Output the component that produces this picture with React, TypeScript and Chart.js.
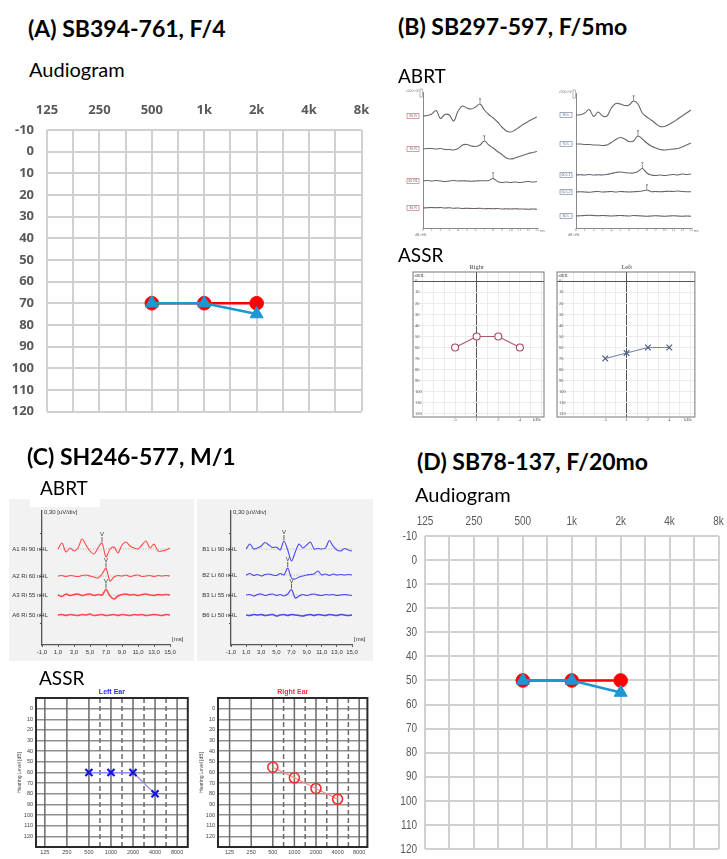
import React, { useEffect, useRef } from 'react';
import { Chart, registerables } from 'chart.js';

Chart.register(...registerables);

// ======================= DATA =======================
// Audiograms (panels A and D)
const audiogramFreqs = [500, 1000, 2000];
const panelARightEar = [70, 70, 70];
const panelALeftEar = [70, 70, 75];
const panelDRightEar = [50, 50, 50];
const panelDLeftEar = [50, 50, 55];
const audiogramTickFreqs = [125, 250, 500, 1000, 2000, 4000, 8000];
const audiogramTickLabels = ['125', '250', '500', '1k', '2k', '4k', '8k'];
const audiogramDbTicks = [-10, 0, 10, 20, 30, 40, 50, 60, 70, 80, 90, 100, 110, 120];

// ASSR (panels B and C)
const assrFreqs = [500, 1000, 2000, 4000];
const panelBAssrRight = [60, 50, 50, 60];
const panelBAssrLeft = [70, 65, 60, 60];
const panelBAssrTickLabels = ['.5', '1', '2', '4'];
const panelBAssrDbTicks = [0, 10, 20, 30, 40, 50, 60, 70, 80, 90, 100, 110, 120];
const panelCAssrLeftEar = [60, 60, 60, 80];
const panelCAssrRightEar = [55, 65, 75, 85];
const panelCAssrTickFreqs = [125, 250, 500, 1000, 2000, 4000, 8000];
const panelCAssrTickLabels = ['125', '250', '500', '1000', '2000', '4000', '8000'];
const panelCAssrDbGrid = [-10, 0, 10, 20, 30, 40, 50, 60, 70, 80, 90, 100, 110, 120, 130];

// ABRT panel B (time in ms, amplitude)
const panelBTimes = [0, 0.5, 1, 1.5, 2, 2.5, 3, 3.5, 4, 4.5, 5, 5.5, 6, 6.5, 7, 7.5, 8, 8.5, 9, 9.5, 10, 10.5, 11, 11.5, 12, 12.5, 13];
const panelBTimeTicks = [0, 1, 2, 3, 4, 5, 6, 7, 8, 9, 10, 11, 12, 13];
const panelBRightLabels = ['90 R', '70 R', '50 R1', '30 R'];
const panelBRight90 = [0, 0.5, 2, 5.5, -2.5, 1.5, 1, -5, 5, 10, 8, 7, 9, 12, 6, 1.5, -2, -6, -11, -15, -16, -14, -11, -8, -5.5, -3, -1];
const panelBRight70 = [0, 0.5, 0.5, 0, 0.5, -0.5, -0.5, -1, 0.5, 4, 4.5, 3, 2.5, 4, 8, 4, 1, -2.5, -5.5, -9, -10, -9, -7.5, -6, -4.5, -3.5, -2.5];
const panelBRight50 = [0, 0.5, 0, 0.5, 0, -0.5, 0, 0.5, 0, 0.3, 0, -0.3, 0, 0.3, 0.3, 0.5, 2.5, -0.5, -1.5, -1, -1.5, -1, -1.5, -1, -0.5, -1, -0.5];
const panelBRight30 = [0, 0.3, 0.5, 0.3, 0.5, 0, 0.3, -0.3, 0, -0.5, -0.3, -0.5, -0.5, -0.3, -0.8, -0.5, -0.8, -0.5, -1, -0.8, -1, -0.8, -1, -1, -1.2, -1, -1.2];
const panelBRightPeaks = [[0, 13], [1, 14], [2, 16]];
const panelBLeftLabels = ['90 L', '70 L', '60 L1', '50 L2', '30 L'];
const panelBLeft90 = [0, 0.3, 2, 5.5, -1.5, 3, -1, -1, 7, 11.5, 11, 9.5, 10, 14, 11, 2, -2, -5, -8.5, -11.5, -11.5, -9.5, -7, -4, -1, 2, 5];
const panelBLeft70 = [0, 0, -0.5, -0.5, -1, -1, -1.5, -1, 1.5, 4.5, 6.5, 5, 2.5, 3, 8, 5, 1, -2, -4, -5.5, -6, -5.5, -5, -4.5, -3, -1, 1];
const panelBLeft60 = [0, 0.3, 0, 0.5, 0, 0.3, 0, 0.5, 1.5, 2.5, 3, 2.5, 2, 2, 3.5, 6.5, 2, 0, -0.5, 0, -0.5, 0, 0.5, 0, 1, 0.5, 1];
const panelBLeft50 = [0, 0.3, 0, -0.3, 0.3, 0.5, 0, 0.3, 0.5, 0, 0.5, 0.3, 0, 0.3, 0.5, 1, 2, 0.3, 0.5, 0.3, 0.5, 0.8, 0.5, 1, 0.5, 0.3, 0.3];
const panelBLeft30 = [0, 0.3, 0.5, 0.8, 0.5, 0.3, 0.5, 0.3, 0, 0.3, 0.5, 0.3, 0, 0.5, 0.3, 0, -0.3, 0, 0.3, 0, -0.3, 0, 0.3, 0, -0.3, 0, -0.3];
const panelBLeftPeaks = [[0, 13], [1, 14], [2, 15], [3, 16]];

// ABRT panel C
const panelCTimes = [1, 1.5, 2, 2.5, 3, 3.5, 4, 4.5, 5, 5.5, 6, 6.5, 7, 7.5, 8, 8.5, 9, 9.5, 10, 10.5, 11, 11.5, 12, 12.5, 13, 13.5, 14, 14.5, 15];
const panelCTimeTicks = [-1, 1, 3, 5, 7, 9, 11, 13, 15];
const panelCRightLabels = ['A1 Ri 90 nHL', 'A2 Ri 60 nHL', 'A3 Ri 55 nHL', 'A6 Ri 50 nHL'];
const panelCRight90 = [0, 6, -3, 1, -2, 1, 10, 4, -2, -5, 1, 6, -8, 0, 2, -4, 4, 7, 3, 1, 0, 4, 8, 1, 5, -2, -2, -1, 1];
const panelCRight60 = [0, 0.5, -0.5, 0.5, 0, -0.5, 0.5, 1, 0, -1, -2, 2, 7.5, -5, -1, 0.5, 0, 1, -0.5, 0.5, 1, -0.5, 0, 0.5, -0.5, 0.5, 0, 0.5, 0];
const panelCRight55 = [0, -1.5, 1, -0.5, 0.5, 1, -0.5, 0.5, 1, -0.5, 0.5, 0, 5.5, -1, -4, -1, 0.5, 1, 0, 0.5, -0.5, 0.5, 1, 0, -0.5, 0.5, 0, 0.5, 0];
const panelCRight50 = [0, 0.5, -0.5, 0.5, 0, -0.5, 0.5, 0, 1, -0.5, 0, 0.5, -0.5, 0, 0.5, -0.5, 0.5, 0, -0.5, 0.5, 0, 0.5, -0.5, 0, 0.5, 0, -0.5, 0.5, 0];
const panelCRightPeaks = [[0, 11], [1, 12], [2, 12]];
const panelCLeftLabels = ['B1 Li 90 nHL', 'B2 Li 60 nHL', 'B3 Li 55 nHL', 'B6 Li 50 nHL'];
const panelCLeft90 = [0, 5, 0, 1, 3, 6.5, 4, 1.5, 2, -1, 8, -1, -12, -3, 5, 1, 4, 7, 0, 0.5, 0, 1, 8.5, 3, -1, -2, 0.5, -1, -2];
const panelCLeft60 = [0, 1.5, -0.5, 0.5, -1, 0.5, 1, 0, -0.5, 1.5, 0, 7, -3, -4, -2, -1, 0, 0.5, 1, 4, 0, 1, -0.5, 1, 0, 0.5, 0, 0.5, 0];
const panelCLeft55 = [0, 0.5, -1, 0.5, 1, -0.5, 0.5, 1, -0.5, 0.5, -1, 1, 5.5, -3, -1, 0.5, -0.5, 0.5, 1, 0, -0.5, 0.5, 0, 0.5, -0.5, 0, 0.5, 0, -0.5];
const panelCLeft50 = [0, -0.5, 0.5, 0, 0.5, -0.5, 0, 0.5, -1, 0, 0.5, -0.5, 0.5, 0, -0.5, -1, 0, 0.5, -0.5, 0.5, 0, -0.5, 0.5, 0, -0.5, 0.5, 0, -0.5, 0];
const panelCLeftPeaks = [[0, 10], [1, 11], [2, 12]];

// ======================= STYLE / HELPERS =======================
const SANS = "'Liberation Sans', Arial, sans-serif";
const SERIF = "'Liberation Serif', 'DejaVu Serif', serif";
const HEAD = "Lato, 'Open Sans', sans-serif";
const AUD_RED = '#ff0000';
const AUD_BLUE = '#1e96d2';
const SQ2 = Math.SQRT2;

function withHalfOctaves(freqs: number[]) {
  const out: number[] = [];
  freqs.forEach((f, i) => {
    out.push(f);
    if (i < freqs.length - 1) out.push(f * SQ2);
  });
  return out;
}
function labelFor(v: number, freqs: number[], labels: string[]) {
  const i = freqs.findIndex((f) => Math.abs(f - v) < 0.5);
  return i >= 0 ? labels[i] : '';
}
function baseOptions(pad: any) {
  return {
    responsive: false,
    maintainAspectRatio: false,
    animation: false,
    events: [],
    layout: { padding: pad },
    plugins: { legend: { display: false }, tooltip: { enabled: false }, title: { display: false } },
  };
}

// ---------- audiogram ----------
function audiogramChart(right: number[], left: number[], L: any) {
  const tickColor = L.squeeze ? 'rgba(0,0,0,0)' : L.color;
  return {
    type: 'line',
    data: {
      datasets: [
        {
          label: 'Left ear',
          data: audiogramFreqs.map((f, i) => ({ x: f, y: left[i] })),
          borderColor: AUD_BLUE, backgroundColor: AUD_BLUE,
          pointBackgroundColor: AUD_BLUE, pointBorderColor: AUD_BLUE,
          borderWidth: L.lw, pointStyle: 'triangle', pointRadius: L.tri, pointBorderWidth: 1, tension: 0,
        },
        {
          label: 'Right ear',
          data: audiogramFreqs.map((f, i) => ({ x: f, y: right[i] })),
          borderColor: AUD_RED, backgroundColor: AUD_RED,
          pointBackgroundColor: AUD_RED, pointBorderColor: AUD_RED,
          borderWidth: L.lw, pointStyle: 'circle', pointRadius: L.dot, pointBorderWidth: 1, tension: 0,
        },
      ],
    },
    options: {
      ...baseOptions({ left: 0, top: 0, right: L.padR, bottom: L.padB }),
      scales: {
        x: {
          type: 'logarithmic', position: 'top', min: 125, max: 8000,
          afterBuildTicks: (s: any) => { s.ticks = withHalfOctaves(audiogramTickFreqs).map((v) => ({ value: v })); },
          afterFit: (s: any) => { s.height = L.xH; s.paddingLeft = 0; s.paddingRight = 0; },
          ticks: {
            autoSkip: false, maxRotation: 0, minRotation: 0, padding: L.xPad, color: tickColor, font: L.font,
            callback: (v: any) => labelFor(Number(v), audiogramTickFreqs, audiogramTickLabels),
          },
          grid: { color: L.grid, lineWidth: L.gridW, drawTicks: false },
          border: { display: false },
        },
        y: {
          type: 'linear', min: -10, max: 120, reverse: true,
          afterBuildTicks: (s: any) => { s.ticks = audiogramDbTicks.map((v) => ({ value: v })); },
          afterFit: (s: any) => { s.width = L.yW; s.paddingTop = 0; s.paddingBottom = 0; },
          ticks: { autoSkip: false, padding: L.yPad, color: tickColor, font: L.font },
          grid: { color: L.grid, lineWidth: L.gridW, drawTicks: false },
          border: { display: false },
        },
      },
    },
    plugins: L.squeeze ? [{
      id: 'narrowTicks',
      afterDraw(chart: any) {
        const { ctx, chartArea: a, scales } = chart;
        ctx.save();
        ctx.fillStyle = L.color;
        ctx.font = `${L.font.size}px ${SANS}`;
        ctx.textBaseline = 'middle';
        audiogramTickFreqs.forEach((f, i) => {
          ctx.save();
          ctx.translate(scales.x.getPixelForValue(f), a.top - L.xGap);
          ctx.scale(L.squeeze, 1);
          ctx.textAlign = 'center';
          ctx.fillText(audiogramTickLabels[i], 0, 0);
          ctx.restore();
        });
        audiogramDbTicks.forEach((v) => {
          ctx.save();
          ctx.translate(a.left - L.yPad, scales.y.getPixelForValue(v));
          ctx.scale(L.squeeze, 1);
          ctx.textAlign = 'right';
          ctx.fillText(String(v), 0, 0);
          ctx.restore();
        });
        ctx.restore();
      },
    }] : [],
  };
}

// ---------- ABRT, panel B (scanned style) ----------
function abrtBChart(traces: number[][], labels: string[], peaks: number[][], L: any) {
  const offsets: number[] = L.offsets;
  return {
    type: 'line',
    data: {
      datasets: traces.map((tr, k) => ({
        data: panelBTimes.map((t, i) => ({ x: t, y: offsets[k] + tr[i] })),
        borderColor: L.line, borderWidth: 1.1, pointRadius: 0, tension: 0.4,
      })),
    },
    options: {
      ...baseOptions({ left: 0, top: L.padT, right: L.padR, bottom: 0 }),
      scales: {
        x: {
          type: 'linear', min: 0, max: 13,
          afterBuildTicks: (s: any) => { s.ticks = panelBTimeTicks.map((v) => ({ value: v })); },
          afterFit: (s: any) => { s.height = L.xH; s.paddingLeft = 0; s.paddingRight = 0; },
          ticks: { autoSkip: false, maxRotation: 0, padding: 0, color: '#777', font: { family: SERIF, size: 4 } },
          grid: { drawOnChartArea: false, drawTicks: false },
          border: { color: '#8a8a8a', width: 1 },
        },
        y: {
          type: 'linear', min: 0, max: L.yMax,
          afterFit: (s: any) => { s.width = L.yW; s.paddingTop = 0; s.paddingBottom = 0; },
          ticks: { display: false },
          grid: { display: false, drawTicks: false },
          border: { color: '#8a8a8a', width: 1 },
        },
      },
    },
    plugins: [{
      id: 'abrtBDecor',
      afterDatasetsDraw(chart: any) {
        const { ctx, chartArea: a, scales } = chart;
        const xs = scales.x, ys = scales.y;
        ctx.save();
        ctx.font = `3.6px ${SANS}`;
        ctx.textAlign = 'center';
        ctx.textBaseline = 'middle';
        labels.forEach((lab, k) => {
          const py = ys.getPixelForValue(offsets[k]);
          ctx.strokeStyle = L.box;
          ctx.lineWidth = 0.7;
          ctx.strokeRect(a.left - 16, py - 2.5, 12, 5);
          ctx.fillStyle = '#666';
          ctx.fillText(lab, a.left - 10, py + 0.2);
        });
        ctx.strokeStyle = '#999';
        ctx.strokeRect(a.left - 3, a.top - 3, 2.5, 8);
        ctx.fillStyle = '#777';
        ctx.textAlign = 'right';
        ctx.fillText('+500 nV', a.left - 4, a.top - 1);
        ctx.strokeStyle = L.line;
        ctx.fillStyle = '#555';
        ctx.textAlign = 'center';
        ctx.textBaseline = 'bottom';
        ctx.font = `bold 4px ${SANS}`;
        peaks.forEach(([k, idx]) => {
          const px = xs.getPixelForValue(panelBTimes[idx]);
          const py = ys.getPixelForValue(offsets[k] + traces[k][idx]);
          ctx.beginPath();
          ctx.moveTo(px, py - 0.5);
          ctx.lineTo(px, py - 4);
          ctx.stroke();
          ctx.fillText('v', px, py - 3.2);
        });
        ctx.font = `3.6px ${SANS}`;
        ctx.fillStyle = '#777';
        ctx.textAlign = 'left';
        ctx.textBaseline = 'middle';
        ctx.fillText('ms', a.right + 3, a.bottom + 2.5);
        ctx.fillText('dB nHL', a.left - 8, a.bottom + 6.5);
        ctx.restore();
      },
    }],
  };
}

// ---------- ABRT, panel C (instrument style) ----------
function abrtCChart(traces: number[][], labels: string[], peaks: number[][], L: any) {
  const offsets: number[] = L.offsets;
  return {
    type: 'line',
    data: {
      datasets: traces.map((tr, k) => ({
        data: panelCTimes.map((t, i) => ({ x: t, y: offsets[k] + tr[i] })),
        borderColor: L.line, borderWidth: L.widths[k], pointRadius: 0, tension: 0.3,
      })),
    },
    options: {
      ...baseOptions({ left: 0, top: L.padT, right: L.padR, bottom: 0 }),
      scales: {
        x: {
          type: 'linear', min: -1, max: 15,
          afterBuildTicks: (s: any) => { s.ticks = panelCTimeTicks.map((v) => ({ value: v })); },
          afterFit: (s: any) => { s.height = L.xH; s.paddingLeft = 0; s.paddingRight = 0; },
          ticks: {
            autoSkip: false, maxRotation: 0, padding: 1.5, color: '#333', font: { family: SANS, size: 6 },
            callback: (v: any) => Number(v).toFixed(1).replace('.', ','),
          },
          grid: { drawOnChartArea: false, tickLength: 2, color: '#555' },
          border: { color: '#555', width: 1.3 },
        },
        y: {
          type: 'linear', min: 0, max: L.yMax,
          afterBuildTicks: (s: any) => { s.ticks = offsets.concat([112, 22]).map((v) => ({ value: v })); },
          afterFit: (s: any) => { s.width = L.yW; s.paddingTop = 0; s.paddingBottom = 0; },
          ticks: { display: false },
          grid: { drawOnChartArea: false, tickLength: 2, color: '#555' },
          border: { color: '#555', width: 1.3 },
        },
      },
    },
    plugins: [{
      id: 'abrtCDecor',
      beforeDatasetsDraw(chart: any) {
        const { ctx, scales } = chart;
        const xs = scales.x, ys = scales.y;
        ctx.save();
        ctx.setLineDash([1, 1.5]);
        ctx.strokeStyle = '#a6a6a6';
        ctx.lineWidth = 0.8;
        offsets.forEach((o) => {
          const py = ys.getPixelForValue(o);
          ctx.beginPath();
          ctx.moveTo(xs.getPixelForValue(panelCTimes[0]), py);
          ctx.lineTo(xs.getPixelForValue(panelCTimes[panelCTimes.length - 1]), py);
          ctx.stroke();
        });
        ctx.restore();
      },
      afterDatasetsDraw(chart: any) {
        const { ctx, chartArea: a, scales } = chart;
        const xs = scales.x, ys = scales.y;
        ctx.save();
        ctx.fillStyle = '#333';
        ctx.font = `6px ${SANS}`;
        ctx.textAlign = 'right';
        ctx.textBaseline = 'middle';
        labels.forEach((lab, k) => {
          ctx.fillText(lab, a.left + 6, ys.getPixelForValue(offsets[k]));
        });
        ctx.textAlign = 'left';
        ctx.fillText('0,30 [uV/div]', a.left + 2, a.top + 1);
        ctx.fillText('[ms]', a.right + 2, a.bottom - 6);
        ctx.strokeStyle = '#444';
        ctx.lineWidth = 0.8;
        ctx.textAlign = 'center';
        ctx.textBaseline = 'bottom';
        peaks.forEach(([k, idx]) => {
          const px = xs.getPixelForValue(panelCTimes[idx]);
          const py = ys.getPixelForValue(offsets[k] + traces[k][idx]);
          ctx.beginPath();
          ctx.moveTo(px, py - 1);
          ctx.lineTo(px, py - 6);
          ctx.stroke();
          ctx.fillText('V', px, py - 5.5);
        });
        ctx.restore();
      },
    }],
  };
}

// ---------- ASSR, panel B (scanned style) ----------
function assrBChart(vals: number[], title: string, S: any, L: any) {
  return {
    type: 'line',
    data: {
      datasets: [{
        data: assrFreqs.map((f, i) => ({ x: f, y: vals[i] })),
        borderColor: S.line, borderWidth: 1.1, tension: 0,
        pointStyle: S.point, pointRadius: S.r, pointBorderColor: S.mark,
        pointBackgroundColor: 'rgba(255,255,255,0.9)', pointBorderWidth: 1.1,
      }],
    },
    options: {
      ...baseOptions({ left: 0, top: 12, right: L.padR, bottom: 0 }),
      scales: {
        x: {
          type: 'logarithmic', min: L.xMin, max: L.xMax,
          afterBuildTicks: (s: any) => {
            s.ticks = withHalfOctaves(audiogramTickFreqs).filter((v) => v > L.xMin && v < L.xMax).map((v) => ({ value: v }));
          },
          afterFit: (s: any) => { s.height = 11; s.paddingLeft = 0; s.paddingRight = 0; },
          ticks: {
            autoSkip: false, maxRotation: 0, padding: 0, color: '#555', font: { family: SERIF, size: 4.5 },
            callback: (v: any) => labelFor(Number(v), assrFreqs, panelBAssrTickLabels),
          },
          grid: {
            color: (c: any) => (c.tick && Math.abs(c.tick.value - 1000) < 1 ? '#555' : '#ececec'),
            lineWidth: 1, drawTicks: false,
          },
          border: { display: false },
        },
        y: {
          type: 'linear', min: -8.4, max: 123, reverse: true,
          afterBuildTicks: (s: any) => { s.ticks = panelBAssrDbTicks.map((v) => ({ value: v })); },
          afterFit: (s: any) => { s.width = L.yW; s.paddingTop = 0; s.paddingBottom = 0; },
          ticks: { autoSkip: false, mirror: true, padding: 2, color: '#555', font: { family: SERIF, size: 4.5 } },
          grid: {
            color: (c: any) => (c.tick && c.tick.value === 0 ? '#555' : '#ececec'),
            lineWidth: 1, drawTicks: false,
          },
          border: { display: false },
        },
      },
    },
    plugins: [{
      id: 'assrBDecor',
      afterDraw(chart: any) {
        const { ctx, chartArea: a, scales } = chart;
        ctx.save();
        ctx.strokeStyle = '#777';
        ctx.lineWidth = 1;
        ctx.strokeRect(a.left, a.top, a.right - a.left, a.bottom - a.top);
        ctx.fillStyle = '#444';
        ctx.font = `6.5px ${SERIF}`;
        ctx.textAlign = 'center';
        ctx.textBaseline = 'middle';
        ctx.fillText(title, scales.x.getPixelForValue(1000), a.top - 5);
        ctx.font = `4.5px ${SERIF}`;
        ctx.fillText('kHz', a.right - 7, a.bottom + 3);
        ctx.textAlign = 'left';
        ctx.font = `4px ${SERIF}`;
        ctx.fillText('dBHL', a.left + 1.5, a.top + 4);
        ctx.restore();
      },
    }],
  };
}

// ---------- ASSR, panel C (instrument style) ----------
function assrCChart(vals: number[], title: string, S: any, L: any) {
  return {
    type: 'line',
    data: {
      datasets: [{
        data: assrFreqs.map((f, i) => ({ x: f, y: vals[i] })),
        borderColor: S.line, borderWidth: 1.2, tension: 0,
        pointStyle: S.point, pointRadius: S.r, pointBorderColor: S.mark,
        pointBackgroundColor: 'rgba(255,255,255,0)', pointBorderWidth: S.pw,
      }],
    },
    options: {
      ...baseOptions({ left: 0, top: 12, right: L.padR, bottom: 0 }),
      scales: {
        x: {
          type: 'logarithmic', min: L.xMin, max: L.xMax,
          afterBuildTicks: (s: any) => { s.ticks = panelCAssrTickFreqs.map((v) => ({ value: v })); },
          afterFit: (s: any) => { s.height = 12; s.paddingLeft = 0; s.paddingRight = 0; },
          ticks: {
            autoSkip: false, maxRotation: 0, padding: 2.5, color: '#444', font: { family: SANS, size: 5.5 },
            callback: (v: any) => labelFor(Number(v), panelCAssrTickFreqs, panelCAssrTickLabels),
          },
          grid: { display: false, drawTicks: false },
          border: { display: false },
        },
        y: {
          type: 'linear', min: -10, max: 130, reverse: true,
          afterBuildTicks: (s: any) => { s.ticks = panelCAssrDbGrid.map((v) => ({ value: v })); },
          afterFit: (s: any) => { s.width = L.yW; s.paddingTop = 0; s.paddingBottom = 0; },
          ticks: {
            autoSkip: false, padding: 3, color: '#444', font: { family: SANS, size: 5.5 },
            callback: (v: any) => (Number(v) >= 0 && Number(v) <= 120 ? String(v) : ''),
          },
          grid: { color: '#8f8f8f', lineWidth: 1.5, drawTicks: false },
          border: { display: false },
        },
      },
    },
    plugins: [{
      id: 'assrCDecor',
      beforeDatasetsDraw(chart: any) {
        const { ctx, chartArea: a, scales } = chart;
        const xs = scales.x;
        ctx.save();
        ctx.strokeStyle = '#6a6a6a';
        ctx.lineWidth = 1.5;
        panelCAssrTickFreqs.forEach((f) => {
          const px = xs.getPixelForValue(f);
          ctx.beginPath(); ctx.moveTo(px, a.top); ctx.lineTo(px, a.bottom); ctx.stroke();
        });
        ctx.setLineDash([5, 3]);
        assrFreqs.forEach((f) => {
          const px = xs.getPixelForValue(f * SQ2);
          ctx.beginPath(); ctx.moveTo(px, a.top); ctx.lineTo(px, a.bottom); ctx.stroke();
        });
        ctx.restore();
      },
      afterDraw(chart: any) {
        const { ctx, chartArea: a } = chart;
        ctx.save();
        ctx.strokeStyle = '#2a2a2a';
        ctx.lineWidth = 2;
        ctx.strokeRect(a.left, a.top, a.right - a.left, a.bottom - a.top);
        ctx.fillStyle = S.title;
        ctx.font = `bold 7px ${SANS}`;
        ctx.textAlign = 'center';
        ctx.textBaseline = 'middle';
        ctx.fillText(title, (a.left + a.right) / 2, a.top - 6);
        ctx.fillStyle = '#444';
        ctx.font = `5px ${SANS}`;
        ctx.translate(L.yTitleX, (a.top + a.bottom) / 2);
        ctx.rotate(-Math.PI / 2);
        ctx.fillText('Hearing Level [dB]', 0, 0);
        ctx.restore();
      },
    }],
  };
}

// ======================= COMPONENTS =======================
function ChartCanvas({ box, build, bg }: { box: number[]; build: () => any; bg?: string }) {
  const ref = useRef<HTMLCanvasElement | null>(null);
  useEffect(() => {
    if (!ref.current) return;
    const chart = new Chart(ref.current, build());
    return () => chart.destroy();
  }, []);
  const [x, y, w, h] = box;
  return (
    <canvas
      ref={ref}
      width={w}
      height={h}
      style={{ position: 'absolute', left: x, top: y, width: w, height: h, background: bg || 'transparent' }}
    />
  );
}

function Label({ x, base, size, bold, children }: any) {
  return (
    <div
      style={{
        position: 'absolute', left: x, top: base - 0.887 * size, fontFamily: HEAD, fontSize: size,
        fontWeight: bold ? 700 : 400, lineHeight: 1, whiteSpace: 'nowrap', color: '#000',
      }}
    >
      {children}
    </div>
  );
}

const AUD_A = {
  padR: 6, padB: 7, xH: 38, yW: 47, xPad: 12, yPad: 13, color: '#595959',
  font: { family: "'Open Sans', sans-serif", size: 13, weight: 'bold' },
  grid: '#d0d0d0', gridW: 2, lw: 2.5, tri: 7.5, dot: 6.8,
};
const AUD_D = {
  padR: 7, padB: 10, xH: 31, yW: 55, xPad: 7, yPad: 8, xGap: 15, squeeze: 0.74, color: '#595959',
  font: { family: SANS, size: 13.5 },
  grid: '#d0d0d0', gridW: 2, lw: 2.5, tri: 7.5, dot: 6.8,
};

export default function App() {
  return (
    <div style={{ position: 'absolute', left: 0, top: 0, width: 727, height: 859, background: '#fff', overflow: 'hidden' }}>
      {/* Panel A */}
      <ChartCanvas box={[0, 92, 370, 328]} build={() => audiogramChart(panelARightEar, panelALeftEar, AUD_A)} />
      {/* Panel D */}
      <ChartCanvas box={[370, 505, 357, 354]} build={() => audiogramChart(panelDRightEar, panelDLeftEar, AUD_D)} />

      {/* Panel B ABRT */}
      <ChartCanvas
        box={[405, 86, 140, 150]}
        build={() => abrtBChart([panelBRight90, panelBRight70, panelBRight50, panelBRight30], panelBRightLabels, panelBRightPeaks,
          { yW: 18, padT: 6, padR: 8, xH: 8, yMax: 136, offsets: [112, 79, 47, 20], line: '#6e6464', box: '#c07a7a' })}
      />
      <ChartCanvas
        box={[555, 86, 145, 150]}
        build={() => abrtBChart([panelBLeft90, panelBLeft70, panelBLeft60, panelBLeft50, panelBLeft30], panelBLeftLabels, panelBLeftPeaks,
          { yW: 21, padT: 7, padR: 9, xH: 8, yMax: 135, offsets: [113, 84, 53, 36, 12], line: '#64666e', box: '#7a8ab0' })}
      />

      {/* Panel B ASSR */}
      <ChartCanvas
        box={[405, 260, 145, 168]}
        build={() => assrBChart(panelBAssrRight, 'Right', { line: '#a35a6a', mark: '#a8485e', point: 'circle', r: 3.5 },
          { yW: 8, padR: 6, xMin: 129.6, xMax: 8670 })}
      />
      <ChartCanvas
        box={[550, 260, 150, 168]}
        build={() => assrBChart(panelBAssrLeft, 'Left', { line: '#7584ac', mark: '#4a5880', point: 'crossRot', r: 4 },
          { yW: 7, padR: 3, xMin: 104.6, xMax: 9177 })}
      />

      {/* Panel C ABRT */}
      <ChartCanvas
        box={[9, 499, 185, 162]}
        bg="#f2f2f2"
        build={() => abrtCChart([panelCRight90, panelCRight60, panelCRight55, panelCRight50], panelCRightLabels, panelCRightPeaks,
          { yW: 33, padT: 12, padR: 24, xH: 16, yMax: 134, offsets: [96, 69, 50, 30], line: '#ff4a4a', widths: [1.1, 1.1, 1.6, 1.4] })}
      />
      <ChartCanvas
        box={[197, 499, 176, 162]}
        bg="#f2f2f2"
        build={() => abrtCChart([panelCLeft90, panelCLeft60, panelCLeft55, panelCLeft50], panelCLeftLabels, panelCLeftPeaks,
          { yW: 34, padT: 12, padR: 21, xH: 16, yMax: 134, offsets: [96, 70, 50, 30], line: '#4a4aee', widths: [1.1, 1.1, 1.2, 1.6] })}
      />
      <div style={{ position: 'absolute', left: 30, top: 499, width: 70, height: 8, background: '#fff' }} />

      {/* Panel C ASSR */}
      <ChartCanvas
        box={[0, 686, 195, 173]}
        build={() => assrCChart(panelCAssrLeftEar, 'Left Ear', { line: '#8c8cff', mark: '#1414e6', point: 'crossRot', r: 5, pw: 2.2, title: '#2a2aff' },
          { yW: 36, padR: 3, xMin: 94.7, xMax: 11200, yTitleX: 20 })}
      />
      <ChartCanvas
        box={[196, 686, 178, 173]}
        build={() => assrCChart(panelCAssrRightEar, 'Right Ear', { line: '#ff8a8a', mark: '#ff2a2a', point: 'circle', r: 5, pw: 1.6, title: '#ff3030' },
          { yW: 22, padR: 1, xMin: 86.2, xMax: 10415, yTitleX: 6 })}
      />

      {/* Headings */}
      <Label x={28} base={37} size={23} bold>(A) SB394-761, F/4</Label>
      <Label x={29} base={77} size={20}>Audiogram</Label>
      <Label x={398} base={35} size={23} bold>(B) SB297-597, F/5mo</Label>
      <Label x={398} base={83} size={19}>ABRT</Label>
      <Label x={398} base={262} size={19}>ASSR</Label>
      <Label x={27} base={465} size={23} bold>(C) SH246-577, M/1</Label>
      <Label x={40} base={495} size={19}>ABRT</Label>
      <Label x={39} base={685} size={19}>ASSR</Label>
      <Label x={417} base={470} size={23} bold>(D) SB78-137, F/20mo</Label>
      <Label x={415} base={502} size={20}>Audiogram</Label>
    </div>
  );
}
